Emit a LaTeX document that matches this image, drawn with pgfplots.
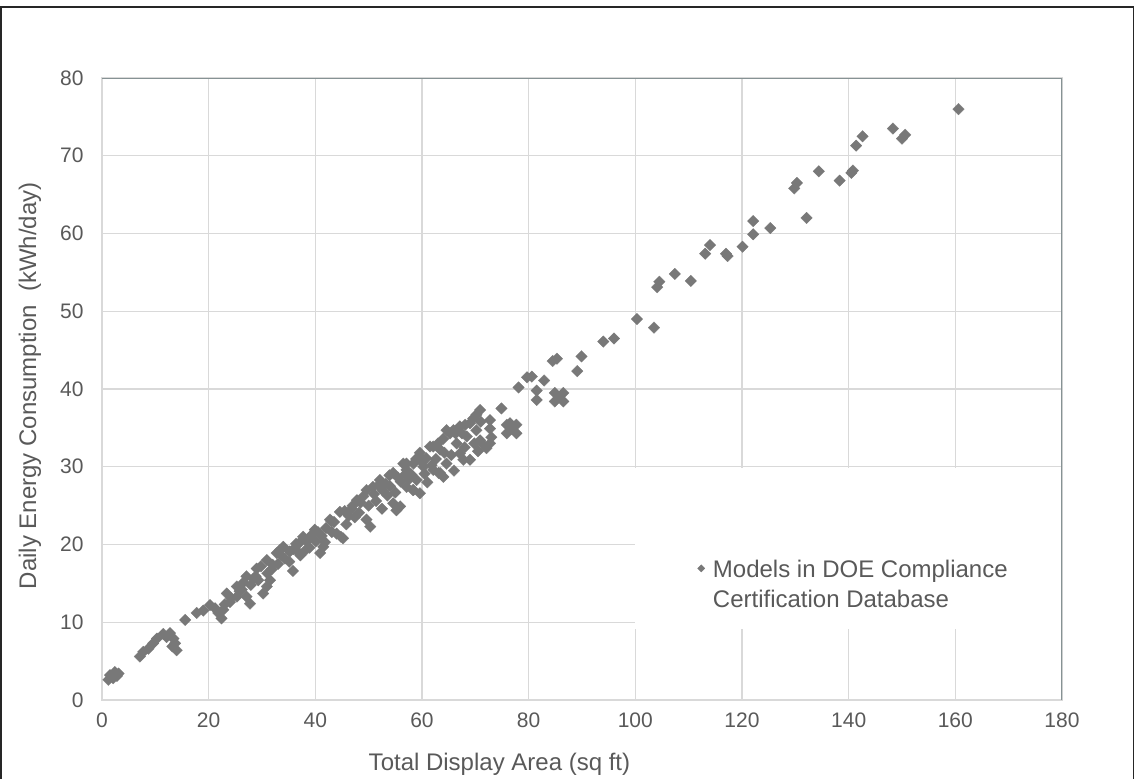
\documentclass[border=0pt]{standalone}
\usepackage{fontspec}
\setmainfont{Liberation Sans}
\usepackage{pgfplots}
\pgfplotsset{compat=1.18}
\definecolor{txt}{RGB}{89,89,89}
\definecolor{mk}{RGB}{120,120,120}
\definecolor{grd}{RGB}{217,217,217}
\definecolor{brd}{RGB}{134,146,148}

\pgfplotstableread{
x y
1.2 2.6
1.5 3.2
2.1 2.8
2.4 3.6
3.1 3.4
2.8 3.1
7.1 5.6
7.75 6.2
8.7 6.6
9.6 7.3
10.3 7.9
11.5 8.5
12.1 8.1
12.75 8.6
13.4 7.9
13.7 7.3
14.0 6.4
13.2 6.9
15.6 10.3
17.75 11.2
19.0 11.5
20.25 12.2
21.2 11.8
21.8 11.2
22.4 10.5
22.75 11.6
23.0 12.3
23.4 13.7
24.2 13.1
24.0 12.6
25.3 14.6
25.3 13.3
25.8 14.0
26.2 14.2
26.5 15.1
27.1 15.9
27.1 13.3
27.75 12.4
27.9 14.8
28.4 15.6
28.8 15.9
29.0 16.9
29.3 15.4
29.8 17.2
30.2 13.7
30.9 14.6
31.0 16.3
31.5 15.4
30.9 18.0
31.8 16.8
32.0 17.4
33.0 17.5
32.75 18.9
33.4 19.3
33.6 18.6
34.0 19.7
34.3 18.2
35.1 17.8
35.2 19.1
35.8 16.6
35.9 19.4
36.4 20.1
36.8 19.0
37.0 20.2
37.2 18.6
37.7 21.0
38.2 19.3
38.4 20.4
38.9 19.6
39.0 20.8
39.4 21.3
39.9 21.9
40.1 20.4
40.5 21.6
40.9 18.9
41.5 19.7
41.2 21.1
41.8 20.3
42.0 22.1
42.75 23.2
43.0 23.0
43.1 21.6
43.5 22.9
44.0 21.4
44.8 21.0
44.6 24.2
45.2 20.8
45.5 24.3
45.8 22.6
46.3 23.7
46.8 24.6
47.0 25.0
47.4 23.5
47.8 25.7
48.2 24.1
48.5 25.4
49.0 26.2
49.6 27.0
49.6 23.2
50.0 25.0
50.3 22.3
50.8 27.4
51.0 26.5
51.4 25.6
51.8 27.6
52.1 28.3
52.5 24.6
52.7 26.9
53.2 27.8
53.5 26.3
53.9 28.9
54.0 27.5
54.6 29.2
54.6 25.3
55.0 26.7
55.2 24.4
55.5 28.6
55.9 24.9
56.0 28.1
56.5 30.4
56.8 29.0
57.1 29.6
57.1 27.4
57.1 30.4
57.6 28.4
58.0 29.0
58.3 27.0
58.4 30.4
58.4 27.0
58.9 31.0
59.0 28.3
59.6 31.8
59.6 31.3
59.6 26.6
60.0 30.6
60.25 30.0
60.5 29.1
60.8 31.1
61.0 28.0
61.5 32.6
61.8 30.2
62.1 32.6
62.1 29.6
62.6 31.0
63.0 33.0
63.1 29.2
63.4 32.2
63.4 29.2
64.0 33.6
64.0 28.7
64.2 31.8
64.6 34.7
64.6 30.4
65.25 34.3
65.5 31.5
65.9 34.7
66.0 29.5
66.3 34.3
66.5 33.0
67.1 35.2
67.1 31.7
67.5 34.3
67.75 30.9
68.0 32.5
68.1 35.4
68.4 33.9
69.0 35.6
69.0 30.9
69.6 36.2
69.8 33.0
70.2 34.7
70.2 36.7
70.5 32.0
70.9 37.3
70.9 33.4
71.0 35.8
71.5 32.8
72.1 32.4
72.75 33.0
72.75 36.0
72.75 34.9
73.0 33.8
74.9 37.5
75.9 35.4
76.5 35.6
77.7 35.4
75.9 34.3
77.7 34.3
76.8 34.9
78.1 40.2
79.7 41.5
80.6 41.6
81.5 39.8
81.5 38.6
82.9 41.1
84.5 43.6
85.3 43.9
84.9 39.5
86.5 39.5
84.9 38.4
86.5 38.4
85.7 39.0
89.1 42.3
89.9 44.2
94.0 46.1
96.0 46.5
100.3 49.0
103.5 47.9
104.1 53.1
104.5 53.8
107.4 54.8
110.4 53.9
113.1 57.4
114.0 58.5
117.0 57.4
117.3 57.1
120.1 58.3
122.1 59.9
122.1 61.6
125.3 60.7
129.8 65.8
130.3 66.5
132.1 62.0
134.4 68.0
138.3 66.8
140.5 67.8
140.8 68.1
141.4 71.3
142.6 72.5
148.3 73.5
150.0 72.2
150.6 72.7
160.6 76.0
}\datatable

\begin{document}
\begin{tikzpicture}
\useasboundingbox (0,0) rectangle (567.5pt,-389pt);
\draw[line width=0.8pt, black!85] (0.6pt,-400pt) -- (0.6pt,-3.5pt) -- (566.7pt,-3.5pt) -- (566.7pt,-400pt);
\begin{axis}[
  at={(51pt,-350pt)}, anchor=south west,
  scale only axis, width=480pt, height=311pt,
  xmin=0, xmax=180, ymin=0, ymax=80,
  xtick={0,20,...,180}, ytick={0,10,...,80},
  grid=major, major grid style={grd, line width=0.6pt},
  major tick length=0pt,
  axis line style={grd, line width=0.6pt},
  /pgf/number format/assume math mode=true,
  tick label style={font=\fontsize{10.5}{12}\selectfont, text=txt},
  xticklabel style={inner sep=0pt, anchor=north, yshift=-6pt},
  yticklabel style={inner sep=0pt, anchor=east, xshift=-9pt},
  xlabel={Total Display Area (sq ft)},
  ylabel={Daily Energy Consumption\ \ (kWh/day)},
  label style={font=\fontsize{12}{14}\selectfont, text=txt},
  xlabel style={at={(axis description cs:0.414,-0.103)}, anchor=center},
  ylabel style={at={(axis description cs:-0.075,0.505)}, anchor=center, rotate=0},
  legend style={draw=none, fill=none, inner sep=0pt, at={(rel axis cs:0.620,0.238)}, anchor=north west,
    font=\fontsize{12}{15}\selectfont, text=txt, legend cell align=left,
    nodes={inner xsep=4pt}},
]
\fill[white] (axis cs:99.85,9.15) rectangle (axis cs:179.75,29.85);
\addplot[only marks, mark=square*, mark size=2.05pt,
  mark options={rotate=45, fill=mk, draw=mk, line width=0.1pt},
  legend image post style={mark size=1.3pt}] table[x=x,y=y] {\datatable};
\addlegendentry{\begin{tabular}[t]{@{}l@{}}Models in DOE Compliance\\Certification Database\end{tabular}}
\draw[brd, line width=0.8pt] (rel axis cs:0,1) -- (rel axis cs:1,1) -- (rel axis cs:1,0);
\end{axis}
\end{tikzpicture}
\end{document}
